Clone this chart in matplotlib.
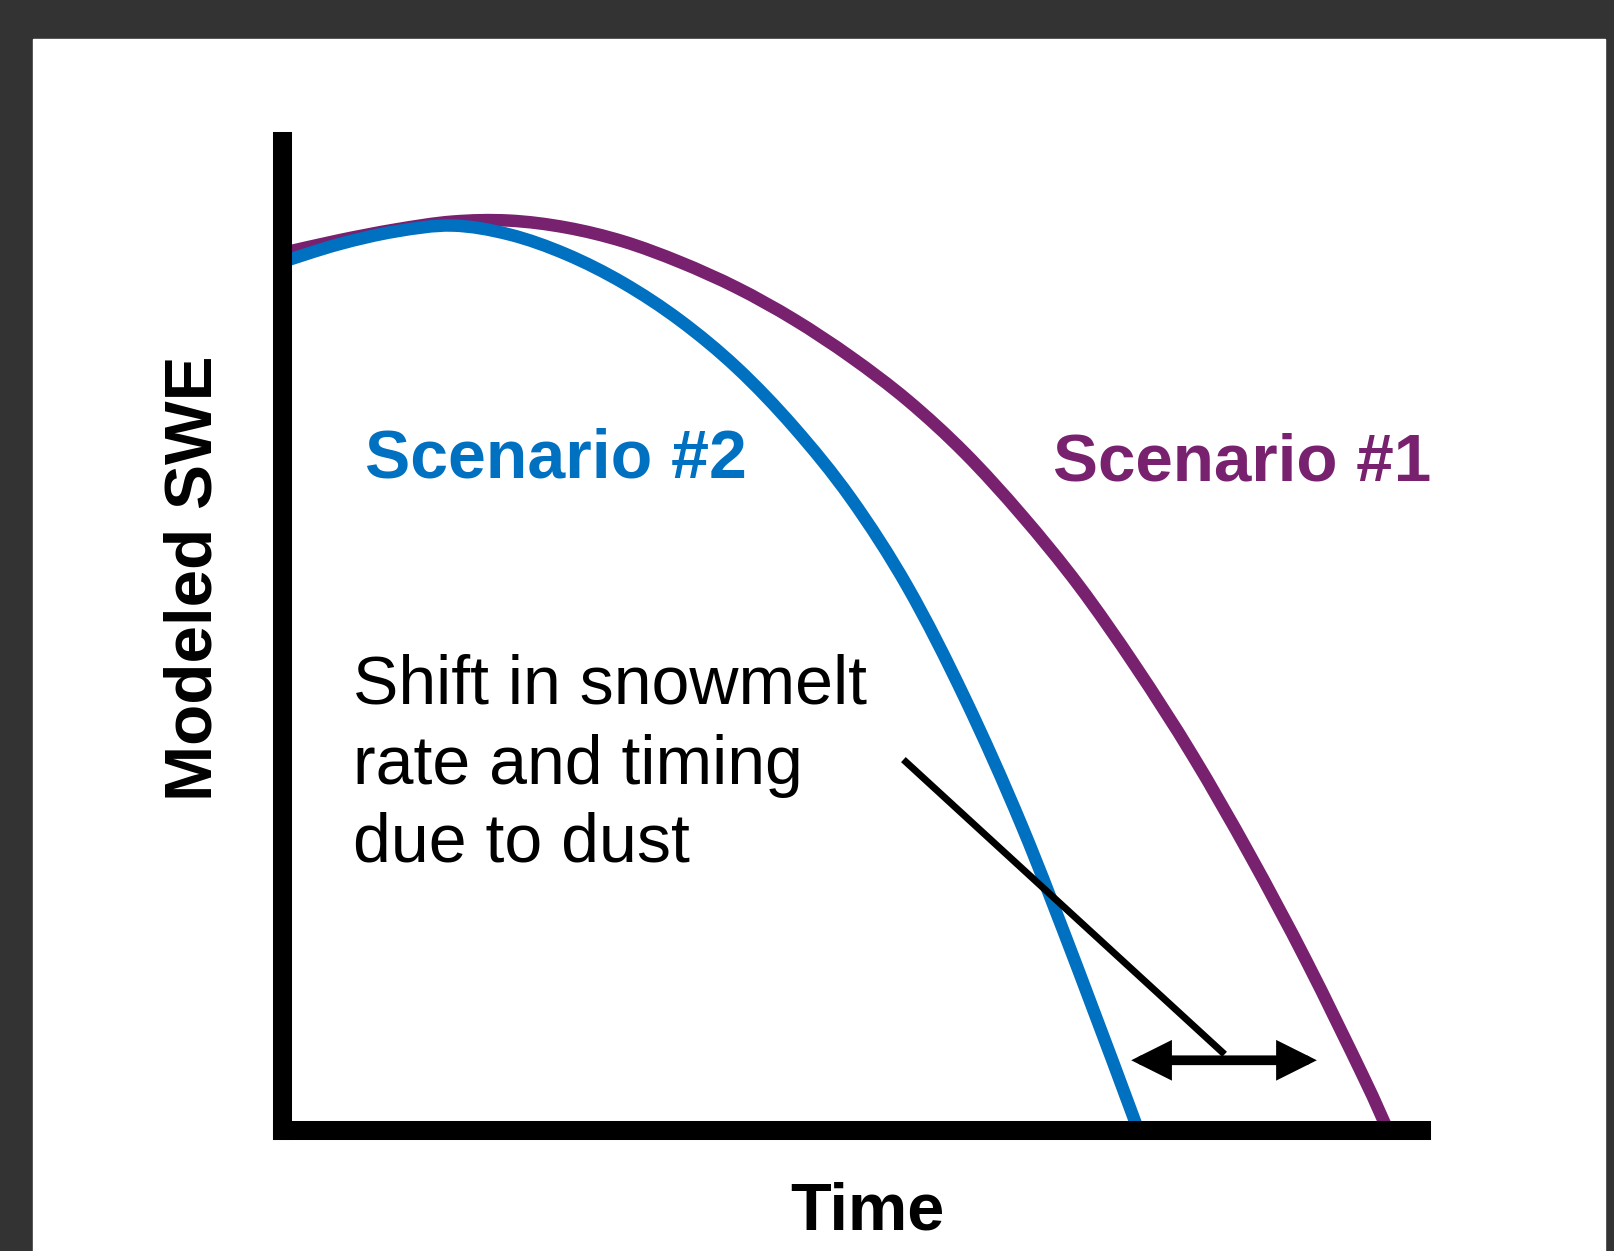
import matplotlib
matplotlib.use('Agg')
import matplotlib.pyplot as plt
import numpy as np
from matplotlib.patches import Rectangle, FancyArrowPatch, PathPatch
from matplotlib.path import Path

# schematic curves (time and SWE in arbitrary 0-100 units)
time_s2 = [0, 5, 10, 15, 20, 25, 30, 35, 40, 45, 50, 55, 60, 65, 70, 75.2]
swe_s2 = [87.7, 89.5, 90.8, 91.4, 90.5, 88.5, 85.6, 81.8, 77.0, 71.0, 63.8, 54.8,
          43.6, 30.7, 16.0, 0]

time_s1 = [0, 5, 10, 15, 20, 25, 30, 35, 40, 45, 50, 55, 60, 65, 70, 75, 80,
           85, 90, 95, 97.1]
swe_s1 = [88.6, 89.9, 91.0, 91.8, 91.9, 91.2, 89.8, 87.7, 85.1, 81.9, 78.1, 73.7,
          68.4, 62.1, 55.0, 46.8, 37.8, 27.8, 17.0, 5.3, 0]

shift_start = (74.6, 7.0)
shift_end = (90.9, 7.0)
pointer_from = (54.6, 37.4)
pointer_to = (82.8, 7.6)

BLUE = '#0070C0'
PURPLE = '#77216F'
FONT = 'Liberation Sans'


def smooth_path(xs, ys):
    # Catmull-Rom spline drawn as cubic Bezier segments through the read points
    p = np.column_stack([xs, ys]).astype(float)
    p = np.vstack([p[0], p, p[-1]])
    verts = [p[1]]
    codes = [Path.MOVETO]
    for i in range(1, len(p) - 2):
        c1 = p[i] + (p[i + 1] - p[i - 1]) / 6
        c2 = p[i + 1] - (p[i + 2] - p[i]) / 6
        verts += [c1, c2, p[i + 1]]
        codes += [Path.CURVE4] * 3
    return Path(verts, codes)


W, H = 1614, 1251
fig = plt.figure(figsize=(W / 100, H / 100), dpi=100, facecolor='#333333')
fig.patches.append(Rectangle((33 / W, 0), (1605 - 33) / W, (H - 39) / H,
                             transform=fig.transFigure, color='white', zorder=-1))

ax = fig.add_axes([281.5 / W, (H - 1129.5) / H, (1420.5 - 281.5) / W, (1129.5 - 140.5) / H])
ax.set_facecolor('none')
ax.set_xlim(0, 100)
ax.set_ylim(0, 100)
ax.set_xticks([])
ax.set_yticks([])
for side in ['top', 'right']:
    ax.spines[side].set_visible(False)
for side in ['left', 'bottom']:
    ax.spines[side].set_linewidth(13.7)
    ax.spines[side].set_color('black')
    ax.spines[side].set_zorder(5)

ax.add_patch(PathPatch(smooth_path(time_s1, swe_s1), fill=False, edgecolor=PURPLE,
                       lw=9, capstyle='butt', joinstyle='round'))
ax.add_patch(PathPatch(smooth_path(time_s2, swe_s2), fill=False, edgecolor=BLUE,
                       lw=9, capstyle='butt', joinstyle='round'))

ax.plot([pointer_from[0], pointer_to[0]], [pointer_from[1], pointer_to[1]],
        color='black', lw=5, solid_capstyle='butt')
arrow = FancyArrowPatch(shift_start, shift_end,
                        arrowstyle='<|-|>,head_length=1.8,head_width=0.9',
                        mutation_scale=10, lw=7, color='black',
                        shrinkA=0, shrinkB=0, joinstyle='miter')
ax.add_patch(arrow)


def px(x, y):
    return x / W, 1 - y / H


fig.text(*px(365, 477), 'Scenario #2', color=BLUE, fontsize=49, fontweight='bold',
         family=FONT, ha='left', va='baseline')
fig.text(*px(1053, 480), 'Scenario #1', color=PURPLE, fontsize=48.5, fontweight='bold',
         family=FONT, ha='left', va='baseline')

lines = ['Shift in snowmelt', 'rate and timing', 'due to dust']
for line, base in zip(lines, [703, 784, 862]):
    fig.text(*px(353, base), line, color='black', fontsize=49, family=FONT,
             ha='left', va='baseline')

fig.text(*px(211, 578), 'Modeled SWE', color='black', fontsize=48.5, fontweight='bold',
         family=FONT, rotation=90, ha='center', va='baseline', rotation_mode='anchor')
fig.text(*px(867, 1230), 'Time', color='black', fontsize=48, fontweight='bold',
         family=FONT, ha='center', va='baseline')

fig.savefig('out.png', dpi=100, facecolor=fig.get_facecolor())
